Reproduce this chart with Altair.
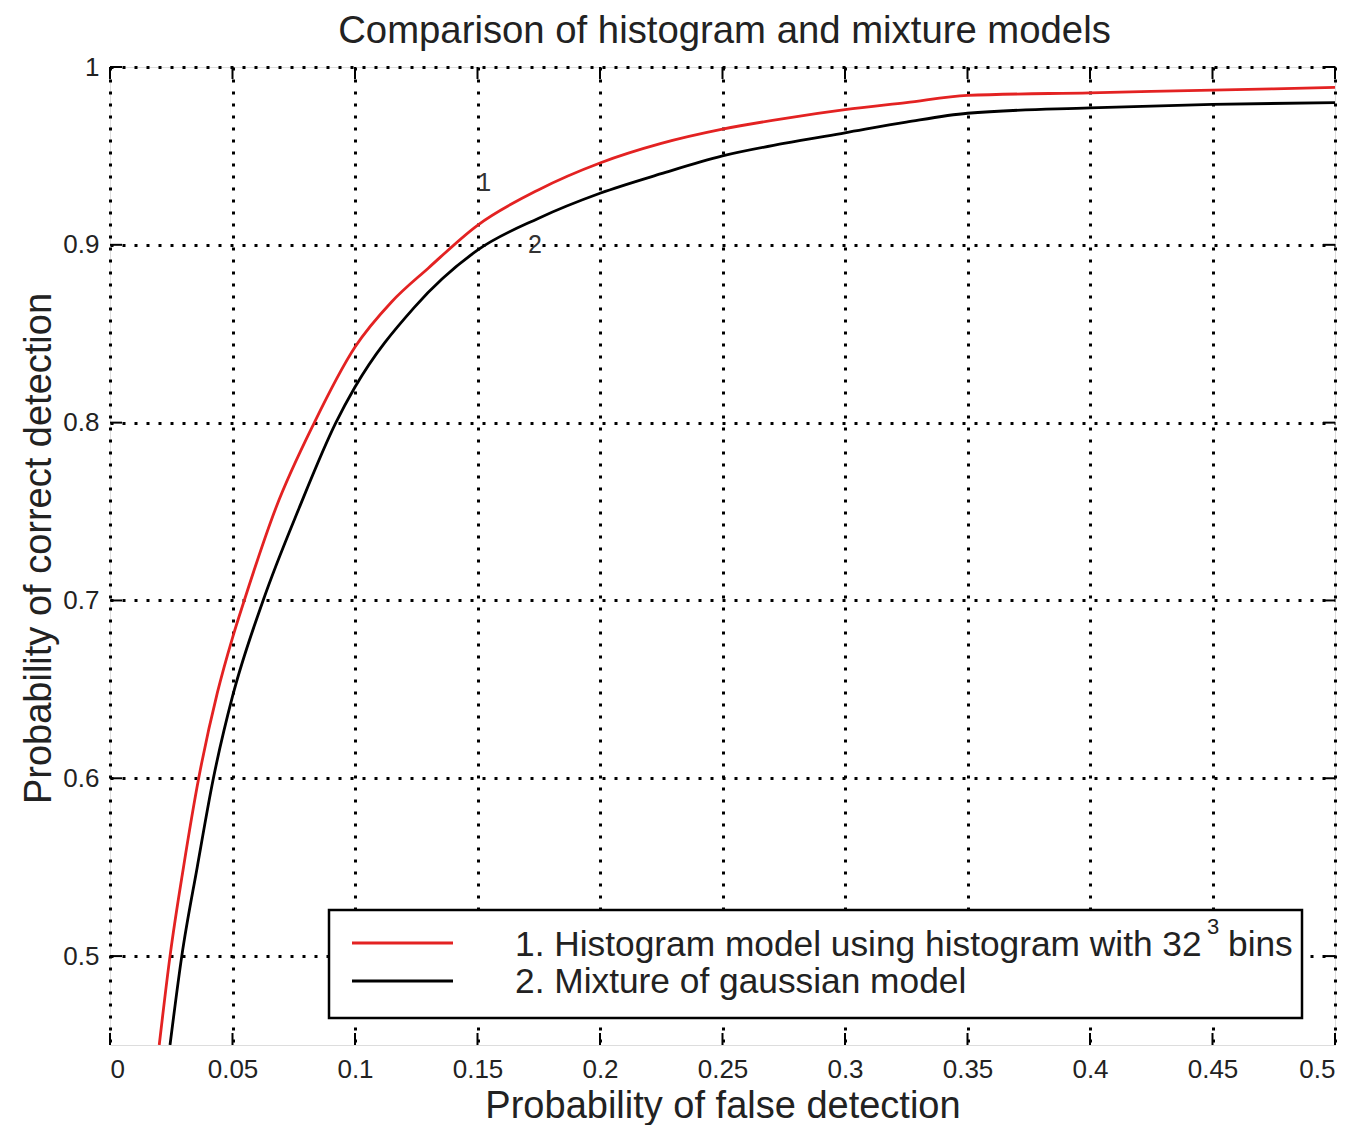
import altair as alt
import pandas as pd

# ROC curves: probability of false detection (x) vs probability of correct detection (y)
hist_fd = [0.0201, 0.0245, 0.0300, 0.0362, 0.0438, 0.05, 0.0548, 0.0677, 0.0834, 0.1,
           0.115, 0.13, 0.15, 0.175, 0.2, 0.225, 0.25, 0.275, 0.3, 0.325,
           0.35, 0.4, 0.45, 0.5]
hist_cd = [0.45, 0.50, 0.55, 0.60, 0.648, 0.679, 0.70, 0.752, 0.80, 0.8425,
           0.868, 0.887, 0.911, 0.931, 0.946, 0.957, 0.965, 0.971, 0.976, 0.980,
           0.984, 0.9855, 0.987, 0.9885]

mix_fd = [0.0245, 0.0293, 0.0356, 0.0422, 0.05, 0.0625, 0.0772, 0.0922, 0.1, 0.1243,
          0.15, 0.175, 0.2, 0.225, 0.25, 0.275, 0.3, 0.325, 0.35, 0.4,
          0.45, 0.5]
mix_cd = [0.45, 0.50, 0.55, 0.60, 0.646, 0.70, 0.752, 0.80, 0.820, 0.865,
          0.897, 0.915, 0.929, 0.940, 0.950, 0.957, 0.963, 0.969, 0.974, 0.977,
          0.979, 0.980]

series = ["1", "2"]
series_colors = ["#e32222", "#000000"]

x_ticks = [0, 0.05, 0.1, 0.15, 0.2, 0.25, 0.3, 0.35, 0.4, 0.45, 0.5]
y_ticks = [0.5, 0.6, 0.7, 0.8, 0.9, 1.0]

# curve annotations
label_text = ["1", "2"]
label_fd = [0.1527, 0.1735]
label_cd = [0.935, 0.900]

TITLE = "Comparison of histogram and mixture models"

W, H = 1225, 978
FONT = "Liberation Sans"
TXT = "#222222"
TICK = 12

curves = pd.concat([
    pd.DataFrame({"fd": hist_fd, "cd": hist_cd, "model": series[0]}),
    pd.DataFrame({"fd": mix_fd, "cd": mix_cd, "model": series[1]}),
])
labels = pd.DataFrame({"fd": label_fd, "cd": label_cd, "label": label_text})
xt = pd.DataFrame({"fd": x_ticks})
yt = pd.DataFrame({"cd": y_ticks})
one = pd.DataFrame({"k": [0]})

x_scale = alt.Scale(domain=[0, 0.5], nice=False, zero=False)
y_scale = alt.Scale(domain=[0.45, 1.0], nice=False, zero=False)

grid_style = dict(grid=True, gridColor="black", gridDash=[3, 9], gridWidth=3,
                  gridCap="butt", ticks=False, domain=False,
                  labelFont=FONT, labelFontSize=26, labelColor=TXT, labelPadding=11,
                  titleFont=FONT, titleFontSize=38, titleFontWeight="normal",
                  titleColor=TXT)

x_axis = alt.Axis(values=x_ticks, format="~g", title="Probability of false detection",
                  titlePadding=5, **grid_style)
y_axis = alt.Axis(values=y_ticks, format="~g", title="Probability of correct detection",
                  titlePadding=4, titleY=H / 2 - 8, **grid_style)

X = alt.X("fd:Q", scale=x_scale, axis=x_axis)
Y = alt.Y("cd:Q", scale=y_scale, axis=y_axis)

lines = alt.Chart(curves).mark_line(strokeWidth=2.8, interpolate="monotone", clip=True).encode(
    x=X, y=Y,
    color=alt.Color("model:N", scale=alt.Scale(domain=series, range=series_colors), legend=None),
)

curve_labels = alt.Chart(labels).mark_text(font=FONT, fontSize=25, color="#333333",
                                           baseline="middle", align="center").encode(
    x=X, y=Y, text="label:N"
)

# inward ticks on all four sides of the box
tick_kw = dict(color="black", strokeWidth=2)
ticks_bottom = alt.Chart(xt).mark_rule(**tick_kw).encode(x=X, y=alt.value(H), y2=alt.value(H - TICK))
ticks_top = alt.Chart(xt).mark_rule(**tick_kw).encode(x=X, y=alt.value(0), y2=alt.value(TICK))
ticks_left = alt.Chart(yt).mark_rule(**tick_kw).encode(y=Y, x=alt.value(0), x2=alt.value(TICK))
ticks_right = alt.Chart(yt).mark_rule(**tick_kw).encode(y=Y, x=alt.value(W), x2=alt.value(W - TICK))

# chart title above the box
title = alt.Chart(one).mark_text(text=TITLE, font=FONT, fontSize=38.3, color=TXT,
                                 align="center", baseline="alphabetic").encode(
    x=alt.value(W / 2 + 2), y=alt.value(-24)
)

# legend box
legend_box = alt.Chart(one).mark_rect(fill="white", stroke="black", strokeWidth=2.5).encode(
    x=alt.value(219), x2=alt.value(1192), y=alt.value(843), y2=alt.value(951)
)
legend_red = alt.Chart(one).mark_rule(color=series_colors[0], strokeWidth=3).encode(
    x=alt.value(242), x2=alt.value(343), y=alt.value(876)
)
legend_black = alt.Chart(one).mark_rule(color=series_colors[1], strokeWidth=3).encode(
    x=alt.value(242), x2=alt.value(343), y=alt.value(914)
)
txt_kw = dict(font=FONT, color=TXT, align="left", baseline="middle")
legend_t1 = alt.Chart(one).mark_text(text="1. Histogram model using histogram with 32",
                                     fontSize=35.3, **txt_kw).encode(x=alt.value(405), y=alt.value(878))
legend_sup = alt.Chart(one).mark_text(text="3", fontSize=22, **txt_kw).encode(
    x=alt.value(1097), y=alt.value(860))
legend_bins = alt.Chart(one).mark_text(text="bins", fontSize=35.3, **txt_kw).encode(
    x=alt.value(1118), y=alt.value(878))
legend_t2 = alt.Chart(one).mark_text(text="2. Mixture of gaussian model",
                                     fontSize=35.3, **txt_kw).encode(x=alt.value(405), y=alt.value(915))

chart = alt.layer(
    lines, curve_labels, ticks_bottom, ticks_top, ticks_left, ticks_right, title,
    legend_box, legend_red, legend_black, legend_t1, legend_sup, legend_bins, legend_t2,
).properties(
    width=W, height=H,
    autosize=alt.AutoSizeParams(type="none"),
    padding={"left": 110, "top": 67, "right": 24, "bottom": 80},
).configure_view(
    stroke="black", strokeWidth=2.5
).configure(background="white")

chart.save("out.html", embed_options={"renderer": "svg", "actions": False})
